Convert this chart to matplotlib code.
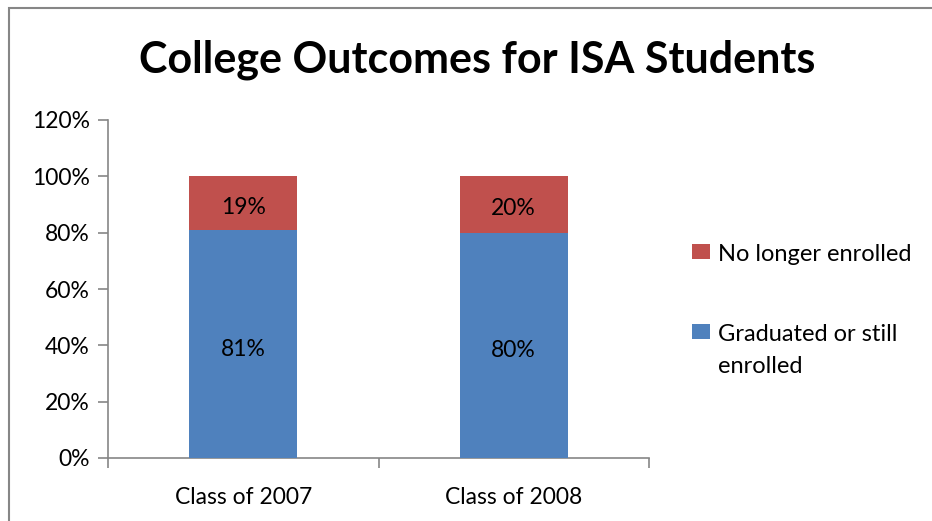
import matplotlib
matplotlib.use("Agg")
import matplotlib.pyplot as plt
from matplotlib.patches import Rectangle
from matplotlib.ticker import FixedLocator, FuncFormatter

categories = ["Class of 2007", "Class of 2008"]
graduated = [0.81, 0.80]
no_longer = [0.19, 0.20]
labels_grad = ["81%", "80%"]
labels_no = ["19%", "20%"]
yticks = [0, 0.2, 0.4, 0.6, 0.8, 1.0, 1.2]
legend_labels = ["No longer enrolled", "Graduated or still\nenrolled"]

plt.rcParams['font.family'] = ['Lato', 'DejaVu Sans']

W, H = 932, 521
fig = plt.figure(figsize=(W/100, H/100), dpi=100)

# outer chart border
fig.patches.append(Rectangle((9/W, -0.1), 1.2, (H-7.5)/H + 0.1, transform=fig.transFigure,
                             fill=False, edgecolor='#868686', linewidth=1.5))

L, R, B, T = 108, 649, 458, 120
ax = fig.add_axes([L/W, 1 - B/H, (R-L)/W, (B-T)/H])

x = [0, 1]
blue = '#4F81BD'
red = '#C0504D'
ax.bar(x, graduated, width=0.4, color=blue, zorder=3)
ax.bar(x, no_longer, width=0.4, bottom=graduated, color=red, zorder=3)

FS = 16.5
for i in x:
    ax.annotate(labels_grad[i], (i, graduated[i]/2), xytext=(0, -4), textcoords='offset points',
                ha='center', va='center', fontsize=FS, color='black', zorder=4)
    ax.annotate(labels_no[i], (i, graduated[i] + no_longer[i]/2), xytext=(0, -3), textcoords='offset points',
                ha='center', va='center', fontsize=FS, color='black', zorder=4)

ax.set_xlim(-0.5, 1.5)
ax.set_ylim(0, 1.2)
ax.yaxis.set_major_locator(FixedLocator(yticks))
ax.yaxis.set_major_formatter(FuncFormatter(lambda v, p: f"{round(v*100)}%"))
ax.set_xticks(x)
ax.set_xticklabels(categories)
ax.xaxis.set_minor_locator(FixedLocator([-0.5, 0.5, 1.5]))

for s in ['top', 'right']:
    ax.spines[s].set_visible(False)
for s in ['left', 'bottom']:
    ax.spines[s].set_color('#868686')
    ax.spines[s].set_linewidth(1.2)

ax.tick_params(axis='y', which='major', direction='out', length=7, color='#868686', width=1.2,
               labelsize=FS, pad=6)
ax.tick_params(axis='x', which='major', length=0, labelsize=FS, pad=21)
ax.tick_params(axis='x', which='minor', direction='out', length=7, color='#868686', width=1.2)

fig.text(477/W, 1 - 60/H, "College Outcomes for ISA Students", ha='center', va='center',
         fontsize=31, fontweight='bold')

# legend (drawn manually to match Excel layout)
leg_items = [(legend_labels[0], red, 244), (legend_labels[1], blue, 324)]
for text, col, top in leg_items:
    fig.patches.append(Rectangle((692/W, 1 - (top + 15)/H), 18/W, 15/H, transform=fig.transFigure,
                                 facecolor=col, edgecolor='none'))
    fig.text(718/W, 1 - top/H, text, ha='left', va='top', fontsize=17, linespacing=1.65)

fig.savefig("out.png", dpi=100)
